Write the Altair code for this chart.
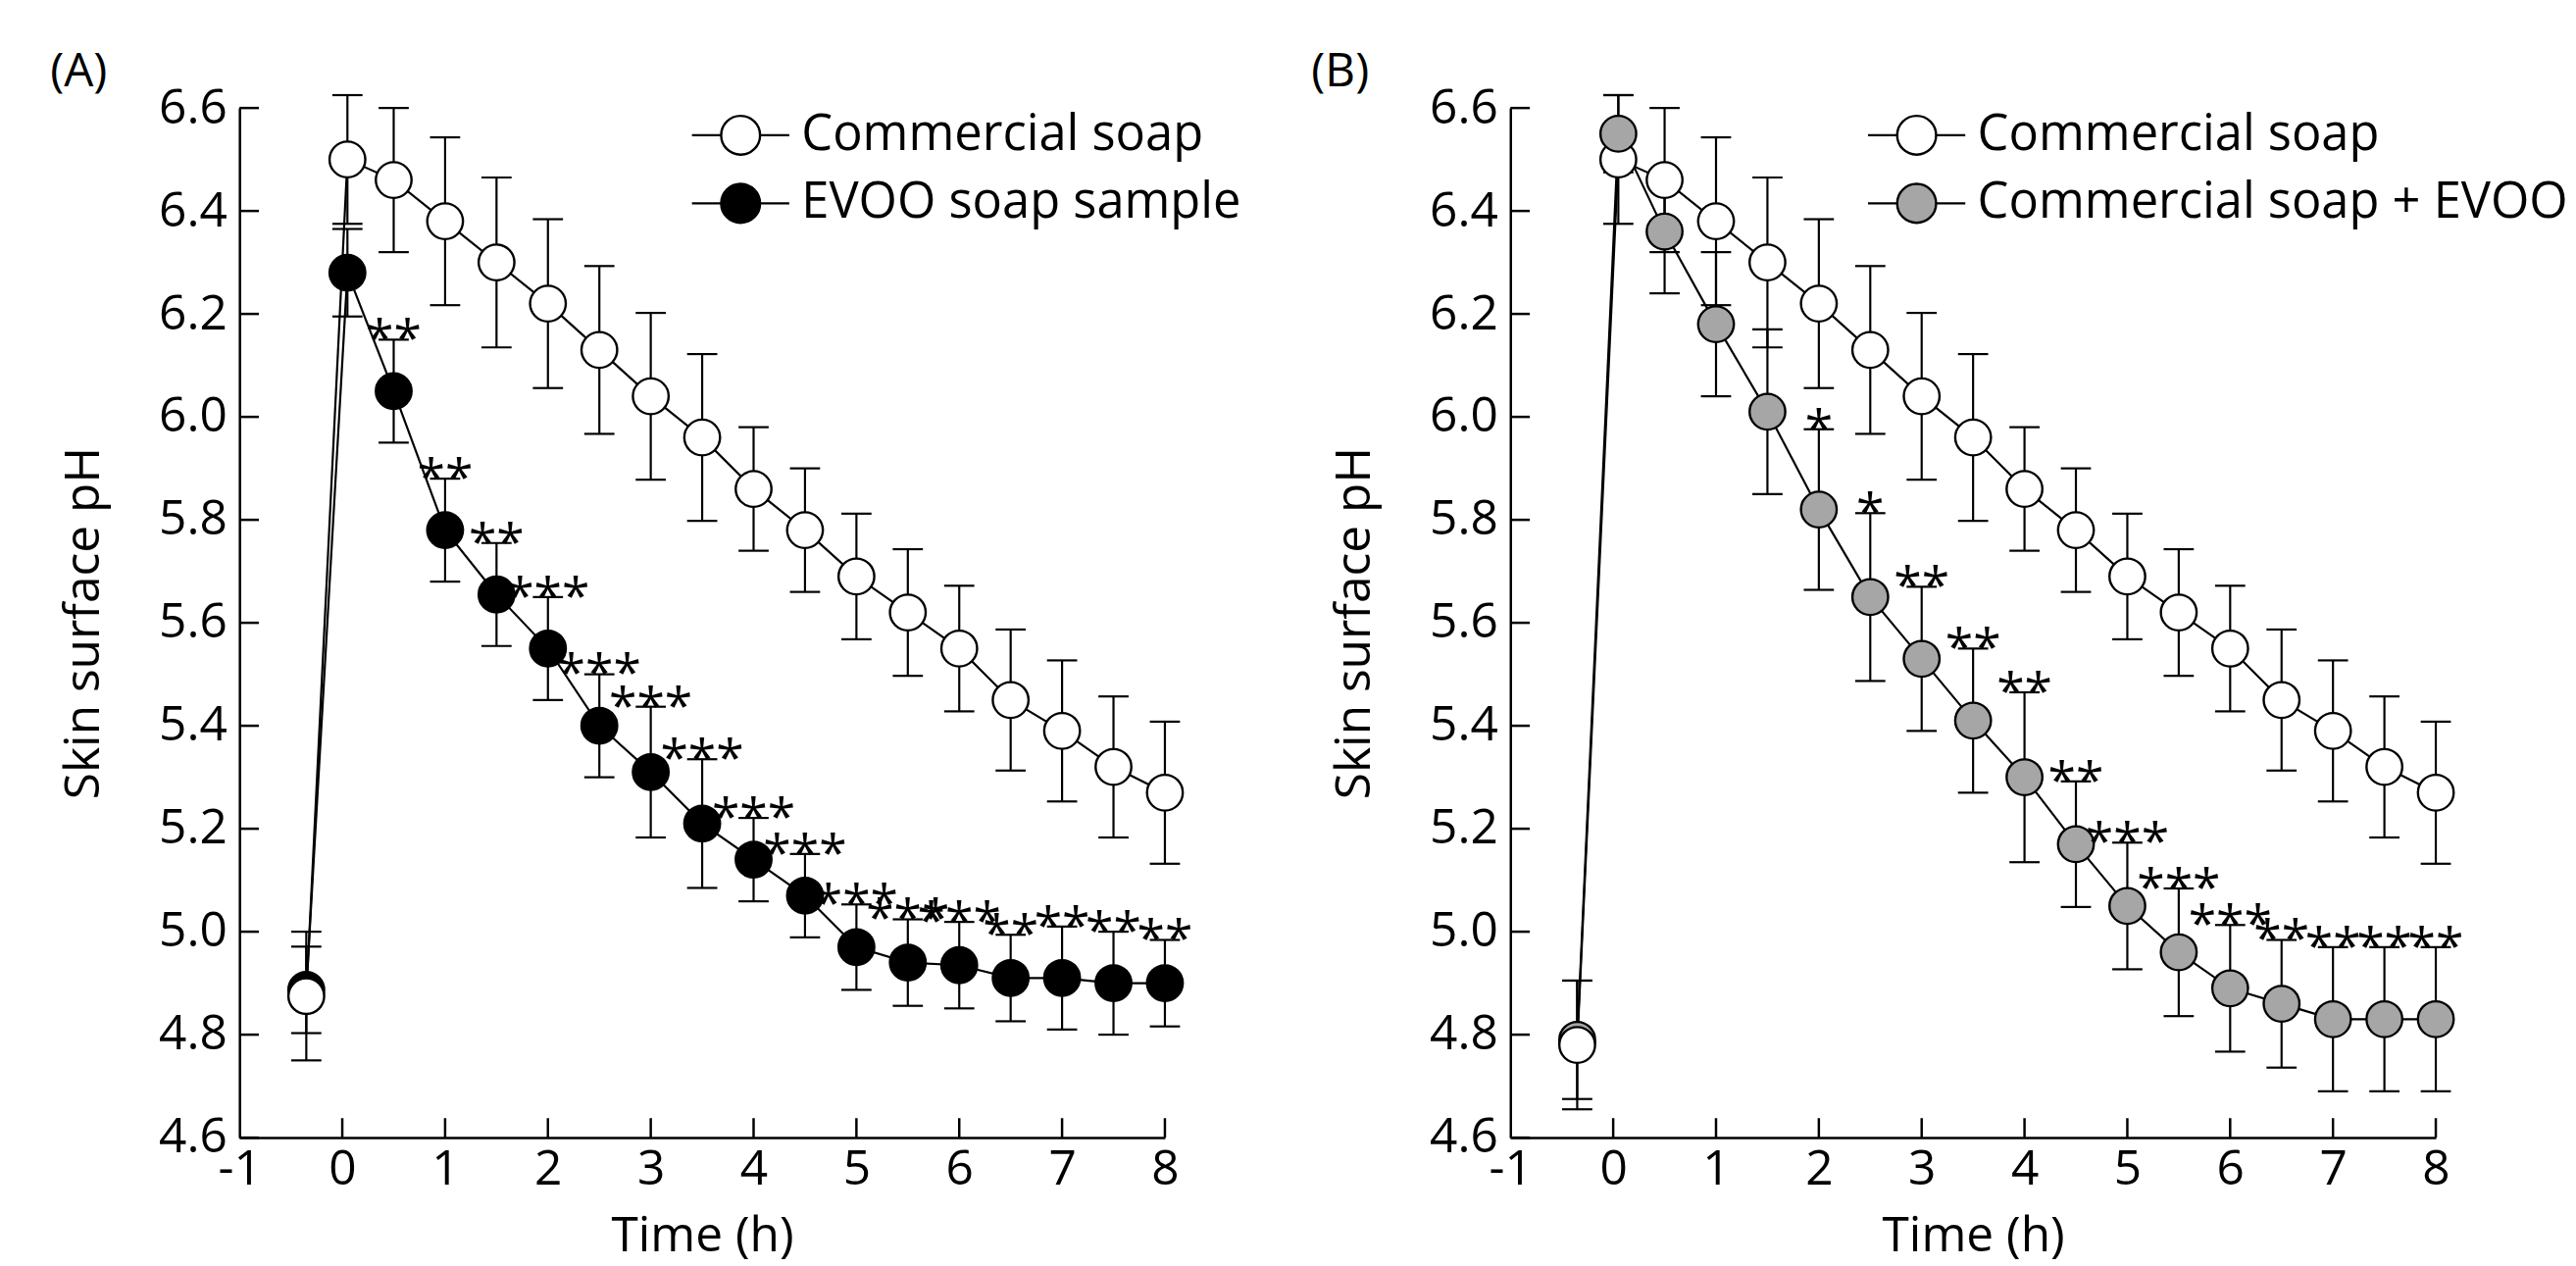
import altair as alt
import pandas as pd

# ---------------- data ----------------
time_h = [-0.35, 0.05, 0.5, 1.0, 1.5, 2.0, 2.5, 3.0, 3.5, 4.0, 4.5, 5.0, 5.5, 6.0, 6.5, 7.0, 7.5, 8.0]

# Panel A
a_names = ["Commercial soap", "EVOO soap sample"]
a_comm_mean = [4.875, 6.50, 6.46, 6.38, 6.30, 6.22, 6.13, 6.04, 5.96, 5.86, 5.78, 5.69, 5.62, 5.55, 5.45, 5.39, 5.32, 5.27]
a_comm_sd = [0.125, 0.125, 0.14, 0.163, 0.165, 0.164, 0.163, 0.162, 0.162, 0.12, 0.12, 0.122, 0.123, 0.122, 0.137, 0.137, 0.137, 0.138]
a_evoo_mean = [4.887, 6.28, 6.05, 5.78, 5.655, 5.55, 5.40, 5.31, 5.21, 5.14, 5.07, 4.97, 4.94, 4.935, 4.91, 4.91, 4.90, 4.90]
a_evoo_sd = [0.084, 0.085, 0.10, 0.10, 0.10, 0.10, 0.10, 0.127, 0.125, 0.081, 0.081, 0.083, 0.084, 0.084, 0.084, 0.10, 0.10, 0.084]
a_sig_times = [0.5, 1.0, 1.5, 2.0, 2.5, 3.0, 3.5, 4.0, 4.5, 5.0, 5.5, 6.0, 6.5, 7.0, 7.5, 8.0]
a_sig_marks = ["**", "**", "**", "***", "***", "***", "***", "***", "***", "***", "***", "***", "**", "**", "**", "**"]

# Panel B
b_names = ["Commercial soap", "Commercial soap + EVOO"]
b_comm_mean = [4.78, 6.50, 6.46, 6.38, 6.30, 6.22, 6.13, 6.04, 5.96, 5.86, 5.78, 5.69, 5.62, 5.55, 5.45, 5.39, 5.32, 5.27]
b_comm_sd = [0.125, 0.125, 0.14, 0.163, 0.165, 0.164, 0.163, 0.162, 0.162, 0.12, 0.12, 0.122, 0.123, 0.122, 0.137, 0.137, 0.137, 0.138]
b_evoo_mean = [4.79, 6.55, 6.36, 6.18, 6.01, 5.82, 5.65, 5.53, 5.41, 5.30, 5.17, 5.05, 4.96, 4.89, 4.86, 4.83, 4.83, 4.83]
b_evoo_sd = [0.115, 0.075, 0.12, 0.14, 0.16, 0.156, 0.163, 0.14, 0.14, 0.165, 0.122, 0.123, 0.124, 0.123, 0.124, 0.14, 0.14, 0.14]
b_sig_times = [2.0, 2.5, 3.0, 3.5, 4.0, 4.5, 5.0, 5.5, 6.0, 6.5, 7.0, 7.5, 8.0]
b_sig_marks = ["*", "*", "**", "**", "**", "**", "***", "***", "***", "**", "**", "**", "**"]

x_tick_vals = [-1, 0, 1, 2, 3, 4, 5, 6, 7, 8]
y_tick_vals = [4.6, 4.8, 5.0, 5.2, 5.4, 5.6, 5.8, 6.0, 6.2, 6.4, 6.6]

# ---------------- style ----------------
FONT = "Open Sans"
W, H = 951, 1058
LW = 2.2
LEGEND_PATH = "M-2.5,0H-1M1,0H2.5M-1,0A1,1,0,1,0,1,0A1,1,0,1,0,-1,0Z"


def build_panel(tag, tag_x, names, fills, comm_mean, comm_sd, test_mean, test_sd,
                sig_times, sig_marks, legend_x, top_series_at, anchor=False):
    rows = []
    for s_idx, (nm, mu, sd) in enumerate([(names[0], comm_mean, comm_sd), (names[1], test_mean, test_sd)]):
        for i, t in enumerate(time_h):
            z = 1 if s_idx == 0 else 0
            if s_idx == 1 and i in top_series_at:
                z = 2
            rows.append(dict(series=nm, t=t, m=mu[i], lo=mu[i] - sd[i], hi=mu[i] + sd[i], z=z))
    df = pd.DataFrame(rows)
    pts_df = df.sort_values("z", kind="stable").reset_index(drop=True)
    cap_df = pd.concat([
        df[["t", "lo"]].rename(columns={"lo": "m"}),
        df[["t", "hi"]].rename(columns={"hi": "m"}),
    ], ignore_index=True)
    test_rows = df[df.series == names[1]].set_index("t")
    ann_df = pd.DataFrame({"t": sig_times, "s": sig_marks,
                           "m": [test_rows.loc[t, "hi"] for t in sig_times]})

    xs = alt.Scale(domain=[-1, 8], nice=False, zero=False)
    ys = alt.Scale(domain=[4.6, 6.6], nice=False, zero=False)

    x_axis = alt.Axis(values=x_tick_vals, labelExpr="'' + datum.value", ticks=False, grid=False,
                      domainColor="black", domainWidth=2.5,
                      labelFont=FONT, labelFontSize=50, labelColor="black",
                      labelPadding=8, labelFlush=False, labelOverlap=False,
                      title="Time (h)", titleFont=FONT, titleFontSize=50,
                      titleFontWeight="normal", titleColor="black",
                      titleY=116, titleBaseline="alphabetic", titleAlign="center")
    y_axis = alt.Axis(values=y_tick_vals, format=".1f", ticks=False, grid=False,
                      domainColor="black", domainWidth=2.5,
                      labelFont=FONT, labelFontSize=50, labelColor="black",
                      labelPadding=13, labelFlush=False, labelOverlap=False,
                      title="Skin surface pH", titleFont=FONT, titleFontSize=50,
                      titleFontWeight="normal", titleColor="black",
                      titleX=-145, titleY=H / 2, titleAngle=270,
                      titleBaseline="alphabetic", titleAlign="center")

    X = alt.X("t:Q", scale=xs, axis=x_axis)
    Y = alt.Y("m:Q", scale=ys, axis=y_axis)

    err = alt.Chart(df).mark_rule(color="black", strokeWidth=LW).encode(
        x=X, y=alt.Y("lo:Q", scale=ys, axis=y_axis), y2="hi:Q",
    )
    caps = alt.Chart(cap_df).mark_tick(orient="horizontal", color="black", size=31,
                                       thickness=LW, opacity=1).encode(x=X, y=Y)
    line = alt.Chart(df).mark_line(color="black", strokeWidth=LW).encode(
        x=X, y=Y, detail="series:N",
    )
    pts = alt.Chart(pts_df).mark_point(shape="circle", filled=True, size=1350,
                                       stroke="black", strokeWidth=2.4, opacity=1).encode(
        x=X, y=Y,
        fill=alt.Fill("series:N", scale=alt.Scale(domain=names, range=fills),
                      legend=alt.Legend(orient="none", legendX=legend_x, legendY=2.5,
                                        padding=0, title=None, rowPadding=18,
                                        labelOffset=37, labelFont=FONT,
                                        labelFontSize=51, labelColor="black",
                                        labelLimit=2000, symbolType=LEGEND_PATH,
                                        symbolSize=1600, symbolStrokeColor="black",
                                        symbolStrokeWidth=2.4)),
    )
    ann = alt.Chart(ann_df).mark_text(font=FONT, fontSize=52, align="center",
                                      baseline="alphabetic", dy=17, color="black").encode(
        x=X, y=Y, text="s:N",
    )
    xt = alt.Chart(pd.DataFrame({"t": x_tick_vals[1:]})).mark_rule(
        color="black", strokeWidth=2.5).encode(
        x=X, y=alt.value(H), y2=alt.value(H - 20),
    )
    yt = alt.Chart(pd.DataFrame({"m": y_tick_vals})).mark_rule(
        color="black", strokeWidth=2.5).encode(
        y=Y, x=alt.value(0), x2=alt.value(20),
    )
    lab = alt.Chart(pd.DataFrame({"s": [tag]})).mark_text(
        font=FONT, fontSize=48, align="left", baseline="alphabetic", color="black").encode(
        text="s:N", x=alt.value(tag_x), y=alt.value(-22),
    )
    layers = [err, caps, line, pts, ann, xt, yt, lab]
    if anchor:
        anc = alt.Chart(pd.DataFrame({"a": [0]})).mark_rule(strokeOpacity=0, color="white").encode(
            x=alt.value(-237.5), x2=alt.value(-236.5), y=alt.value(-98), y2=alt.value(-97),
        )
        layers.append(anc)
    return alt.layer(*layers).properties(width=W, height=H)


pA = build_panel("(A)", -194.5, a_names, ["white", "black"], a_comm_mean, a_comm_sd,
                 a_evoo_mean, a_evoo_sd, a_sig_times, a_sig_marks, 489.5, [], anchor=True)
pB = build_panel("(B)", -204.5, b_names, ["white", "#a6a6a6"], b_comm_mean, b_comm_sd,
                 b_evoo_mean, b_evoo_sd, b_sig_times, b_sig_marks, 392, [1])

chart = alt.hconcat(pA, pB, spacing=355, bounds="flush").resolve_scale(
    x="independent", y="independent", fill="independent"
).resolve_legend(fill="independent").properties(padding=0).configure_view(stroke=None)

chart.save("out.html", embed_options={"renderer": "svg", "actions": False})
